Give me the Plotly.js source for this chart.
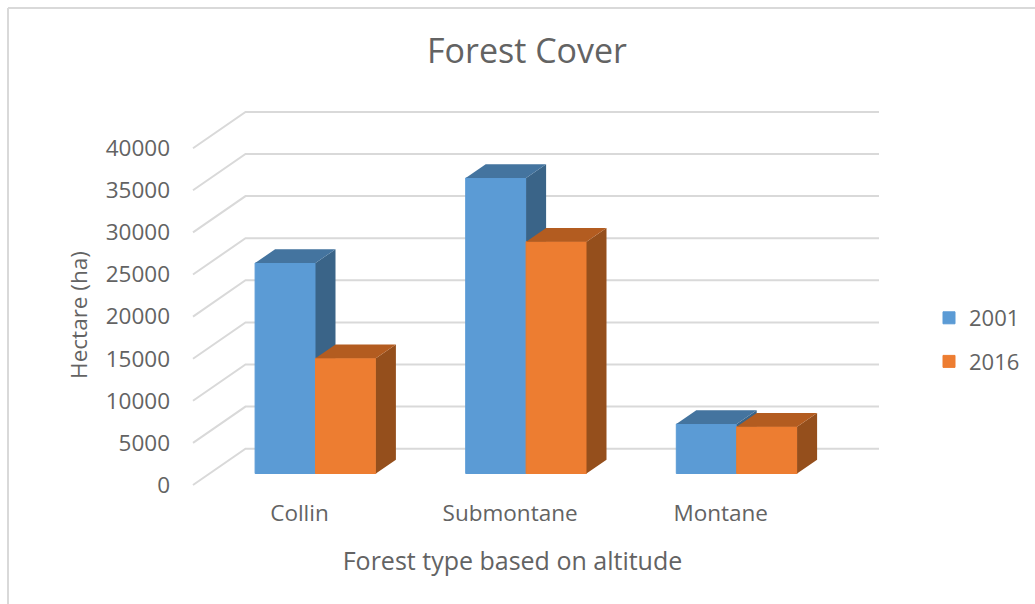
<!DOCTYPE html>
<html>
<head>
<meta charset="utf-8">
<script src="https://cdn.plot.ly/plotly-3.0.1.min.js"></script>
<style>html,body{margin:0;padding:0;background:#fff}</style>
</head>
<body>
<div id="chart" style="width:1035px;height:604px"></div>
<script>
// Forest cover by altitude band, in hectares
const categories = ["Collin", "Submontane", "Montane"];
const values2001 = [25000, 35100, 5880];
const values2016 = [13680, 27530, 5560];
const tickValues = [0, 5000, 10000, 15000, 20000, 25000, 30000, 35000, 40000];

// Oblique projection of the 3D column look, in screen pixels
const W = 1035, H = 604;
const pxPerCat = 210.6, pxPerUnit = 0.00842;
const cat0Px = 299.5, zeroPx = 485;
const font = "'Open Sans', sans-serif", ink = "#636363", gridColor = "#D9D9D9";
const plotTopPx = 100, plotBottomPx = 530;

// Pixel offsets converted into axis units
const ux = p => p / pxPerCat, uy = p => p / pxPerUnit;
const wallDX = ux(52.5), wallDY = uy(36.3);
const barDX = ux(16), barDY = uy(11.5);
const deepDX = ux(20), deepDY = uy(13.7);
const barW = ux(60.4);

const xRange = [ux(145 - cat0Px), ux(880 - cat0Px)];
const yRange = [-uy(plotBottomPx - zeroPx), uy(zeroPx - plotTopPx)];

// Floor diagonal and back-wall line of each value gridline
const gx = [], gy = [];
tickValues.forEach(t => {
  const x0 = ux(193 - cat0Px), xEnd = ux(879 - cat0Px);
  gx.push(x0, x0 + wallDX, xEnd, null);
  gy.push(t, t + wallDY, t + wallDY, null);
});

function faces(vals, left) {
  const top = {x: [], y: []}, side = {x: [], y: []};
  vals.forEach((v, i) => {
    const a = i + barDX + left, b = a + barW;
    const yb = barDY, yt = barDY + v;
    top.x.push(a, b, b + deepDX, a + deepDX, null);
    top.y.push(yt, yt, yt + deepDY, yt + deepDY, null);
    side.x.push(b, b + deepDX, b + deepDX, b, null);
    side.y.push(yb, yb + deepDY, yt + deepDY, yt, null);
  });
  return {top, side};
}

function series(name, vals, left, front, topC, sideC, ax, ay) {
  const f = faces(vals, left);
  const poly = (d, c) => ({
    type: "scatter", mode: "lines", x: d.x, y: d.y, xaxis: ax, yaxis: ay,
    fill: "toself", fillcolor: c, line: {width: 0, color: c},
    showlegend: false, hoverinfo: "skip"
  });
  return [
    {type: "bar", name: name, legendgroup: name,
     x: vals.map((_, i) => i + barDX), y: vals, base: vals.map(() => barDY),
     offset: left, width: barW, xaxis: ax, yaxis: ay,
     marker: {color: front, line: {color: front, width: 1}}},
    poly(f.side, sideC),
    poly(f.top, topC)
  ];
}

const data = [
  {type: "scatter", mode: "lines", x: gx, y: gy, showlegend: false, hoverinfo: "skip",
   line: {color: gridColor, width: 2}},
  ...series("2001", values2001, -barW, "#5B9BD5", "#44749F", "#3A6488", "x2", "y2"),
  ...series("2016", values2016, 0, "#ED7D31", "#B35C20", "#954F1C", "x3", "y3")
];

const hidden = (range, over) => ({visible: false, range: range, overlaying: over, fixedrange: true});
const xDomain = [145 / W, 880 / W];
const yDomain = [1 - plotBottomPx / H, 1 - plotTopPx / H];

const layout = {
  width: W, height: H,
  margin: {l: 0, r: 0, t: 0, b: 0},
  paper_bgcolor: "#fff", plot_bgcolor: "rgba(0,0,0,0)",
  font: {family: font, color: ink, size: 22},
  barmode: "overlay",
  title: {text: "Forest Cover", x: 527 / W, xref: "paper", xanchor: "center",
          y: 1 - 51 / H, yref: "paper", yanchor: "middle",
          font: {family: font, size: 34, color: ink}},
  xaxis: {domain: xDomain, range: xRange, anchor: "free", position: 1 - 490 / H,
          tickmode: "array", tickvals: categories.map((_, i) => i), ticktext: categories,
          showgrid: false, zeroline: false, showline: false, ticks: "",
          ticklabelstandoff: 7, fixedrange: true,
          tickfont: {size: 22.5, color: ink},
          title: {text: "Forest type based on altitude", standoff: 25, font: {size: 25, color: ink}}},
  yaxis: {domain: yDomain, range: yRange, anchor: "free", position: 193 / W,
          tickmode: "array", tickvals: tickValues, ticktext: tickValues.map(String),
          showgrid: false, zeroline: false, showline: false, ticks: "",
          ticklabelstandoff: 23, fixedrange: true,
          tickfont: {size: 22.5, color: ink},
          title: {text: "Hectare (ha)", standoff: 10, font: {size: 22.5, color: ink}}},
  xaxis2: hidden(xRange, "x"), yaxis2: hidden(yRange, "y"),
  xaxis3: hidden(xRange, "x"), yaxis3: hidden(yRange, "y"),
  legend: {x: 929 / W, xanchor: "left", y: 1 - 340 / H, yanchor: "middle",
           tracegroupgap: 12, font: {size: 22, color: ink},
           bgcolor: "rgba(0,0,0,0)", traceorder: "grouped"},
  shapes: [
    {type: "line", xref: "paper", yref: "paper", x0: 8 / W, x1: 8 / W, y0: 0, y1: 1 - 8 / H,
     line: {color: gridColor, width: 2}},
    {type: "line", xref: "paper", yref: "paper", x0: 8 / W, x1: 1, y0: 1 - 8 / H, y1: 1 - 8 / H,
     line: {color: gridColor, width: 2}}
  ]
};

Plotly.newPlot("chart", data, layout, {displayModeBar: false, responsive: false});
</script>
</body>
</html>
